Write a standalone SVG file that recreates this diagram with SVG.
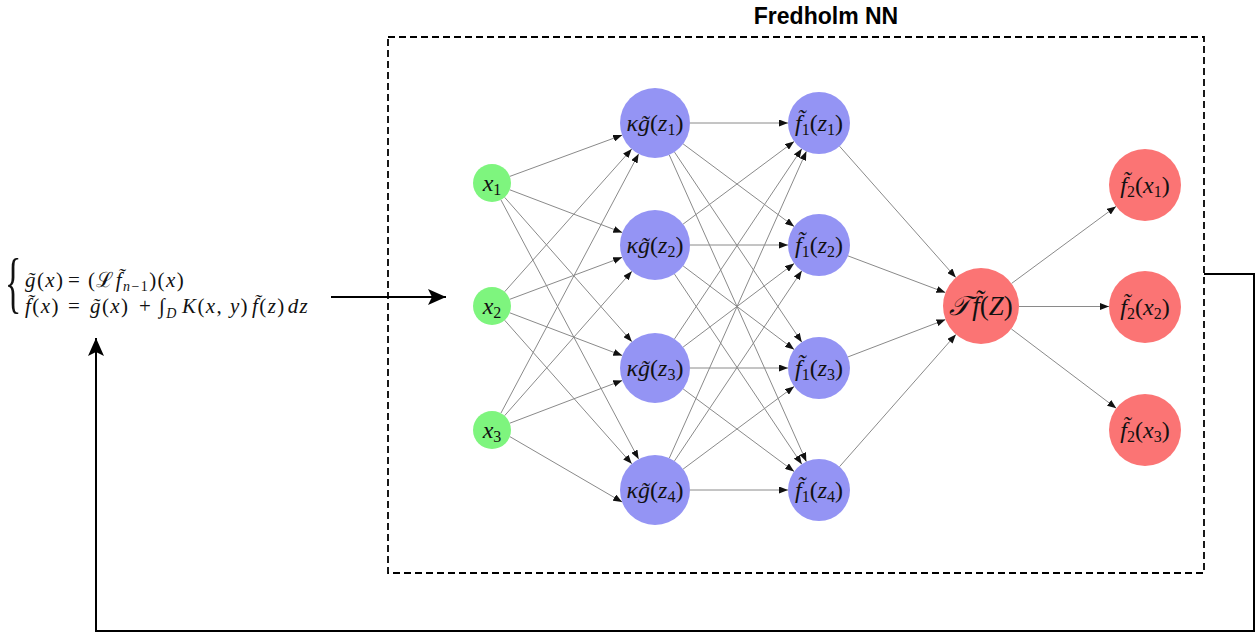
<svg xmlns="http://www.w3.org/2000/svg" width="1260" height="633" viewBox="0 0 1260 633">
<style>
.e{stroke:#8a8a8a;stroke-width:1;fill:none;marker-end:url(#ah)}
.lbl{font-family:"Liberation Serif","DejaVu Serif",serif;font-size:24px;fill:#111;text-anchor:middle}
.eq{font-family:"Liberation Serif","DejaVu Serif",serif;font-size:21px;fill:#111;letter-spacing:1.4px}
.it{font-style:italic}
.g{fill:#7ef57e}
.b{fill:#9494f4}
.r{fill:#fb7474}
</style>
<defs>
<marker id="ah" markerUnits="userSpaceOnUse" markerWidth="9" markerHeight="7" refX="9" refY="3.5" orient="auto"><path d="M0,0 L9,3.5 L0,7 z" fill="#111"/></marker>
<marker id="big" markerUnits="userSpaceOnUse" markerWidth="18" markerHeight="16" refX="18" refY="8" orient="auto"><path d="M0,0 L18,8 L0,16 L4,8 z" fill="#000"/></marker>
</defs>
<rect width="1260" height="633" fill="#fff"/>
<g id="frame">
<rect x="388" y="37" width="816" height="536" fill="none" stroke="#000" stroke-width="1.8" stroke-dasharray="7 4"/>
<text x="826" y="24" font-family="Liberation Sans,Arial,sans-serif" font-weight="bold" font-size="23" text-anchor="middle" fill="#000">Fredholm NN</text>
</g>
<g id="equation">
<text class="eq" transform="translate(5,305) scale(0.5,1)" style="font-size:68px;letter-spacing:0">{</text>
<text class="eq" y="287"><tspan x="25" class="it">g̃</tspan>(<tspan class="it">x</tspan>)<tspan x="68">=</tspan><tspan x="88">(ℒ</tspan><tspan class="it">f̃</tspan><tspan dy="4" style="font-size:14px" class="it">n</tspan><tspan style="font-size:14px">−1</tspan><tspan dy="-4">)(</tspan><tspan class="it">x</tspan>)</text>
<text class="eq" y="313"><tspan x="25" class="it">f̃</tspan>(<tspan class="it">x</tspan>)<tspan x="68">=</tspan><tspan x="90" class="it">g̃</tspan>(<tspan class="it">x</tspan>)<tspan x="139">+</tspan><tspan x="159">∫</tspan><tspan dy="5" style="font-size:14px" class="it">D</tspan><tspan x="182" dy="-5" class="it">K</tspan>(<tspan class="it">x</tspan>, <tspan class="it">y</tspan>)<tspan dx="3" class="it">f̃</tspan>(<tspan class="it">z</tspan>)<tspan dx="2" class="it">dz</tspan></text>
</g>
<g id="connectors">
<line class="e" x1="509.8" y1="176.4" x2="622.2" y2="135.1"/>
<line class="e" x1="509.8" y1="189.8" x2="622.3" y2="232.6"/>
<line class="e" x1="504.6" y1="197.3" x2="631.9" y2="341.7"/>
<line class="e" x1="500.9" y1="199.8" x2="638.6" y2="459.1"/>
<line class="e" x1="504.6" y1="291.8" x2="631.7" y2="149.1"/>
<line class="e" x1="509.8" y1="299.3" x2="622.2" y2="257.3"/>
<line class="e" x1="509.8" y1="312.8" x2="622.3" y2="355.6"/>
<line class="e" x1="504.6" y1="320.2" x2="631.8" y2="463.8"/>
<line class="e" x1="500.9" y1="413.2" x2="638.6" y2="153.9"/>
<line class="e" x1="504.6" y1="415.7" x2="631.9" y2="271.3"/>
<line class="e" x1="509.8" y1="423.2" x2="622.3" y2="380.4"/>
<line class="e" x1="509.8" y1="436.6" x2="622.2" y2="502.1"/>
<line class="e" x1="690" y1="123" x2="788" y2="123"/>
<line class="e" x1="683.1" y1="143.9" x2="794.1" y2="226.5"/>
<line class="e" x1="674.5" y1="152.1" x2="801.8" y2="342.2"/>
<line class="e" x1="669.3" y1="155" x2="806.4" y2="461.7"/>
<line class="e" x1="683.1" y1="224.1" x2="794.1" y2="141.5"/>
<line class="e" x1="690" y1="245" x2="788" y2="245"/>
<line class="e" x1="683.1" y1="265.9" x2="794.1" y2="349.5"/>
<line class="e" x1="674.5" y1="274.1" x2="801.8" y2="464.2"/>
<line class="e" x1="674.5" y1="338.9" x2="801.8" y2="148.8"/>
<line class="e" x1="683.1" y1="347.1" x2="794.1" y2="263.5"/>
<line class="e" x1="690" y1="368" x2="788" y2="368"/>
<line class="e" x1="683.1" y1="388.9" x2="794.1" y2="471.5"/>
<line class="e" x1="669.3" y1="458.1" x2="806.4" y2="151.3"/>
<line class="e" x1="674.5" y1="460.9" x2="801.8" y2="270.8"/>
<line class="e" x1="683.1" y1="469.1" x2="794.1" y2="386.5"/>
<line class="e" x1="690" y1="490" x2="788" y2="490"/>
<line class="e" x1="839.5" y1="146.2" x2="955.8" y2="277.5"/>
<line class="e" x1="848" y1="255.9" x2="945.4" y2="292.6"/>
<line class="e" x1="848" y1="356.9" x2="945.5" y2="319.6"/>
<line class="e" x1="839.5" y1="466.7" x2="955.9" y2="334.5"/>
<line class="e" x1="1011.6" y1="283.4" x2="1116" y2="206.4"/>
<line class="e" x1="1019" y1="306.5" x2="1109" y2="306.5"/>
<line class="e" x1="1011.3" y1="328.9" x2="1116.3" y2="408.3"/>
<line x1="331" y1="297" x2="446" y2="297" stroke="#000" stroke-width="2.2" marker-end="url(#big)"/>
<path d="M1204,274 H1254 V631 H96 V338" fill="none" stroke="#000" stroke-width="2" marker-end="url(#big)"/>
</g>
<g id="x1"><circle class="g" cx="492" cy="183" r="19"/><text class="lbl" x="492" y="191"><tspan class="it">x</tspan><tspan dy="4" font-size="16">1</tspan></text></g>
<g id="x2"><circle class="g" cx="492" cy="306" r="19"/><text class="lbl" x="492" y="314"><tspan class="it">x</tspan><tspan dy="4" font-size="16">2</tspan></text></g>
<g id="x3"><circle class="g" cx="492" cy="430" r="19"/><text class="lbl" x="492" y="438"><tspan class="it">x</tspan><tspan dy="4" font-size="16">3</tspan></text></g>
<g id="k1"><circle class="b" cx="655" cy="123" r="35"/><text class="lbl" x="655" y="131"><tspan class="it">κg̃</tspan>(<tspan class="it">z</tspan><tspan dy="4" font-size="16">1</tspan><tspan dy="-4">)</tspan></text></g>
<g id="k2"><circle class="b" cx="655" cy="245" r="35"/><text class="lbl" x="655" y="253"><tspan class="it">κg̃</tspan>(<tspan class="it">z</tspan><tspan dy="4" font-size="16">2</tspan><tspan dy="-4">)</tspan></text></g>
<g id="k3"><circle class="b" cx="655" cy="368" r="35"/><text class="lbl" x="655" y="376"><tspan class="it">κg̃</tspan>(<tspan class="it">z</tspan><tspan dy="4" font-size="16">3</tspan><tspan dy="-4">)</tspan></text></g>
<g id="k4"><circle class="b" cx="655" cy="490" r="35"/><text class="lbl" x="655" y="498"><tspan class="it">κg̃</tspan>(<tspan class="it">z</tspan><tspan dy="4" font-size="16">4</tspan><tspan dy="-4">)</tspan></text></g>
<g id="f1"><circle class="b" cx="819" cy="123" r="31"/><text class="lbl" x="819" y="131"><tspan class="it">f̃</tspan><tspan dy="4" font-size="16">1</tspan><tspan dy="-4">(</tspan><tspan class="it">z</tspan><tspan dy="4" font-size="16">1</tspan><tspan dy="-4">)</tspan></text></g>
<g id="f2"><circle class="b" cx="819" cy="245" r="31"/><text class="lbl" x="819" y="253"><tspan class="it">f̃</tspan><tspan dy="4" font-size="16">1</tspan><tspan dy="-4">(</tspan><tspan class="it">z</tspan><tspan dy="4" font-size="16">2</tspan><tspan dy="-4">)</tspan></text></g>
<g id="f3"><circle class="b" cx="819" cy="368" r="31"/><text class="lbl" x="819" y="376"><tspan class="it">f̃</tspan><tspan dy="4" font-size="16">1</tspan><tspan dy="-4">(</tspan><tspan class="it">z</tspan><tspan dy="4" font-size="16">3</tspan><tspan dy="-4">)</tspan></text></g>
<g id="f4"><circle class="b" cx="819" cy="490" r="31"/><text class="lbl" x="819" y="498"><tspan class="it">f̃</tspan><tspan dy="4" font-size="16">1</tspan><tspan dy="-4">(</tspan><tspan class="it">z</tspan><tspan dy="4" font-size="16">4</tspan><tspan dy="-4">)</tspan></text></g>
<g id="T"><circle class="r" cx="981" cy="306" r="38"/><text class="lbl" x="981" y="315" style="font-size:27px"><tspan class="it">𝒯</tspan><tspan class="it" dx="2">f̃</tspan>(<tspan class="it">Z</tspan>)</text></g>
<g id="o1"><circle class="r" cx="1145" cy="185" r="36"/><text class="lbl" x="1145" y="193"><tspan class="it">f̃</tspan><tspan dy="4" font-size="16">2</tspan><tspan dy="-4">(</tspan><tspan class="it">x</tspan><tspan dy="4" font-size="16">1</tspan><tspan dy="-4">)</tspan></text></g>
<g id="o2"><circle class="r" cx="1145" cy="307" r="36"/><text class="lbl" x="1145" y="315"><tspan class="it">f̃</tspan><tspan dy="4" font-size="16">2</tspan><tspan dy="-4">(</tspan><tspan class="it">x</tspan><tspan dy="4" font-size="16">2</tspan><tspan dy="-4">)</tspan></text></g>
<g id="o3"><circle class="r" cx="1145" cy="430" r="36"/><text class="lbl" x="1145" y="438"><tspan class="it">f̃</tspan><tspan dy="4" font-size="16">2</tspan><tspan dy="-4">(</tspan><tspan class="it">x</tspan><tspan dy="4" font-size="16">3</tspan><tspan dy="-4">)</tspan></text></g>
</svg>
